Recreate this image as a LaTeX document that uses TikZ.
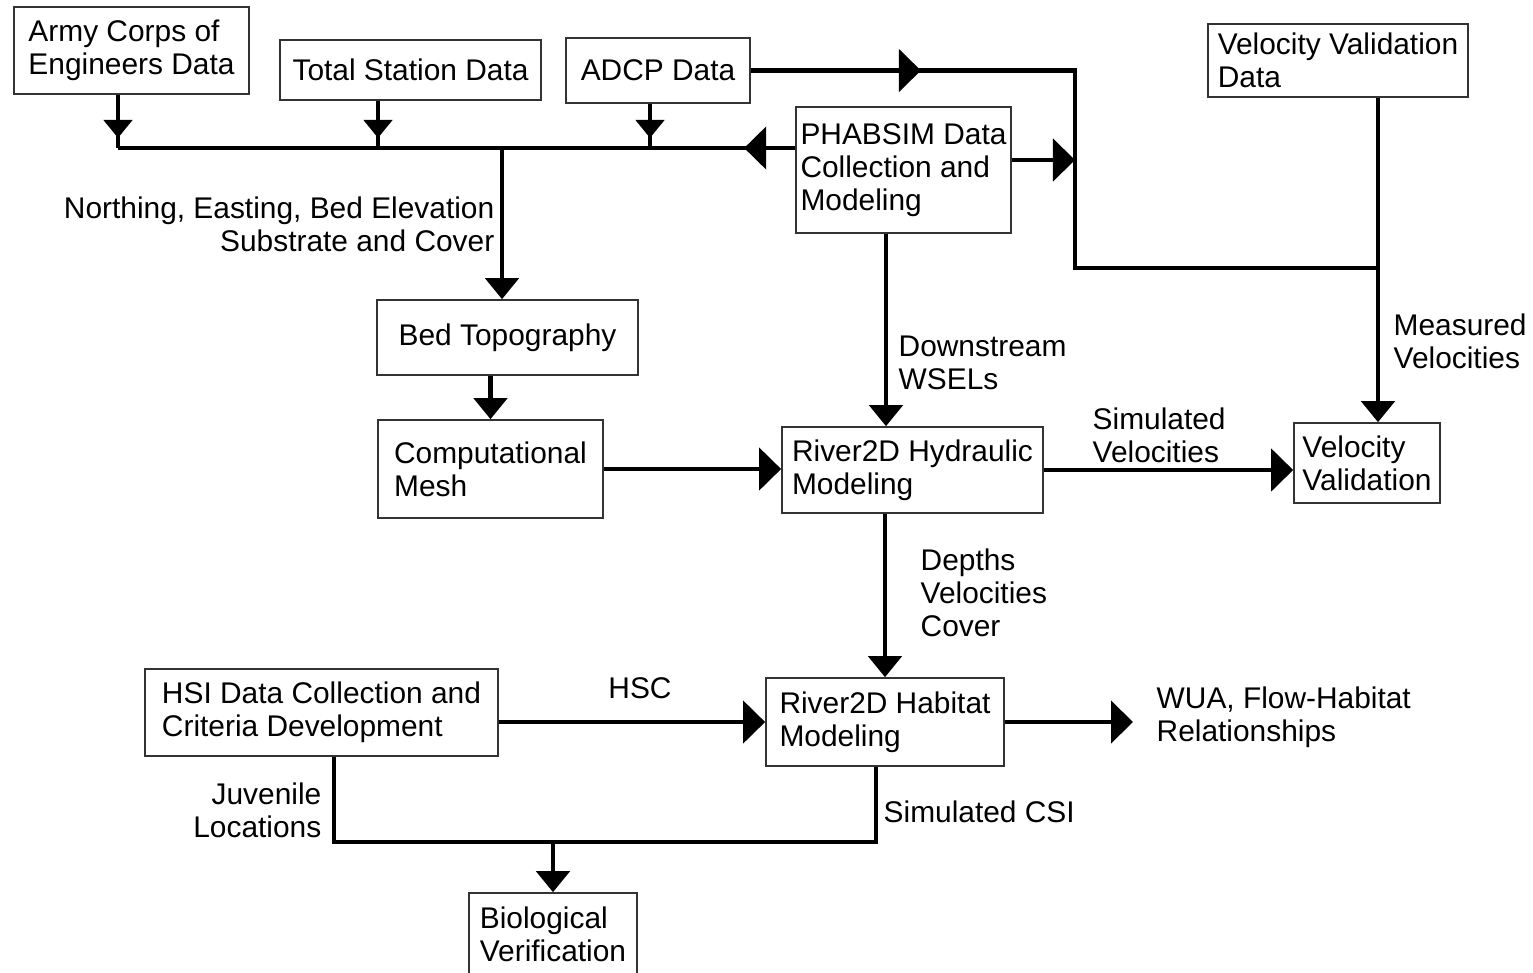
\documentclass[tikz,border=0pt]{standalone}
\usepackage{fontspec}
\setmainfont{Liberation Sans}
\usetikzlibrary{arrows.meta,positioning,decorations.markings}
\tikzset{%
   blk/.style={
      draw=black!80,
      line width=0.45pt,
      rectangle,
      align=left,
      inner sep=0pt
   },
   conn/.style={
      line width=1.3pt,
      draw=black
   },
   tipv/.style={
      -{Triangle[length=2.1mm,width=3.3mm]}
   },
   tiph/.style={
      -{Triangle[length=2.2mm,width=4.2mm]}
   },
   drop/.style={
      postaction={decorate},
      decoration={markings,
        mark=at position -1mm with {\arrow{Triangle[length=1.8mm,width=2.8mm]}}}
   },
   midh/.style={
      postaction={decorate},
      decoration={markings,
        mark=at position #1 with {\arrow{Triangle[length=2.2mm,width=4.2mm]}}}
   },
   lbl/.style={
      inner sep=0pt
   }
}

\begin{document}
\begin{tikzpicture}[x=0.01cm, y=-0.01cm, font=\fontsize{8.5}{9.4}\selectfont]
   \useasboundingbox (0,0) rectangle (1533,972);
   % data boxes
   \node[blk, minimum width=2.35cm, minimum height=0.87cm] (army) at (131.5,50.5) {Army Corps of\\Engineers Data};
   \node[blk, minimum width=2.61cm, minimum height=0.60cm] (tsd) at (410.5,70) {Total Station Data};
   \node[blk, minimum width=1.84cm, minimum height=0.65cm] (adcp) at (658,70.5) {ADCP Data};
   \node[blk, minimum width=2.15cm, minimum height=1.26cm] (phab) at (903.5,170) {PHABSIM Data\\Collection and\\Modeling};
   \node[blk, minimum width=2.60cm, minimum height=0.73cm] (vvd) at (1338,60.5) {Velocity Validation\\Data};
   % modeling boxes
   \node[blk, minimum width=2.61cm, minimum height=0.75cm] (bed) at (507.5,337.5) {Bed Topography};
   \node[blk, minimum width=2.25cm, minimum height=0.98cm] (mesh) at (490.5,469) {Computational\\Mesh};
   \node[blk, minimum width=2.61cm, minimum height=0.86cm] (hydr) at (912.5,470) {River2D Hydraulic\\Modeling};
   \node[blk, minimum width=1.46cm, minimum height=0.80cm] (vval) at (1367,463) {Velocity\\Validation};
   \node[blk, minimum width=2.38cm, minimum height=0.88cm] (habit) at (885,722) {River2D Habitat\\Modeling};
   \node[blk, minimum width=3.53cm, minimum height=0.87cm] (hsi) at (321.5,712.5) {HSI Data Collection and\\Criteria Development};
   \node[blk, minimum width=1.68cm, minimum height=0.82cm] (bio) at (553,934) {Biological\\Verification};

   % junctions
   \coordinate (busW) at (118,148);
   \coordinate (tsx) at (378,148);
   \coordinate (adx) at (650,148);
   \coordinate (busT) at (502,148);
   \coordinate (jnA) at (1075,268);
   \coordinate (jnB) at (1378,268);
   \coordinate (dsx) at (886,0);
   \coordinate (jv) at (334,842);
   \coordinate (cs) at (876,842);
   \coordinate (wua) at (1133,722);

   % data bus
   \draw[conn, midh=0.51cm] (phab.west |- busW) -- (busW);
   \draw[conn, drop] (busW |- army.south) -- (busW);
   \draw[conn, drop] (tsx |- tsd.south) -- (tsx);
   \draw[conn, drop] (adx |- adcp.south) -- (adx);
   \draw[conn, tipv] (busT) -- (busT |- bed.north);
   \draw[conn, midh=1.7cm] (adcp.east) -| (jnA) -- (jnB);
   \draw[conn, tiph] ([yshift=0.1cm]phab.east) -- ([yshift=0.1cm]phab.east -| jnA);
   \draw[conn, tipv] (jnB |- vvd.south) -- (jnB |- vval.north);

   % model chain
   \draw[conn, tipv] (phab.south -| dsx) -- (hydr.north -| dsx);
   \draw[conn, tipv] (mesh.north |- bed.south) -- (mesh.north);
   \draw[conn, tiph] (mesh.east) -- (mesh.east -| hydr.west);
   \draw[conn, tiph] (hydr.east) -- (hydr.east -| vval.west);
   \draw[conn, tipv] (habit.north |- hydr.south) -- (habit.north);
   \draw[conn, tiph] (hsi.east |- habit.west) -- (habit.west);
   \draw[conn, tiph] (habit.east) -- (wua);
   \draw[conn] (hsi.south -| jv) -- (jv) -- (cs) -- (habit.south -| cs);
   \draw[conn, tipv] (bio.north |- jv) -- (bio.north);

   % labels
   \node[lbl, anchor=east, align=right] (nebe) at (495,224) {Northing, Easting, Bed Elevation\\Substrate and Cover};
   \node[lbl, anchor=west, align=left] (wsel) at (898,363) {Downstream\\WSELs};
   \node[lbl, anchor=west, align=left] (meas) at (1393,341) {Measured\\Velocities};
   \node[lbl, anchor=west, align=left] (simv) at (1092,435) {Simulated\\Velocities};
   \node[lbl, anchor=west, align=left] (dvc) at (920,593) {Depths\\Velocities\\Cover};
   \node[lbl] (hsc) at (640,688) {HSC};
   \node[lbl, right=0.23cm of wua, yshift=0.05cm, align=left] (wuat) {WUA, Flow-Habitat\\Relationships};
   \node[lbl, anchor=east, align=right] (juv) at (322,810) {Juvenile\\Locations};
   \node[lbl, anchor=west] (csi) at (883,812) {Simulated CSI};
\end{tikzpicture}
\end{document}
